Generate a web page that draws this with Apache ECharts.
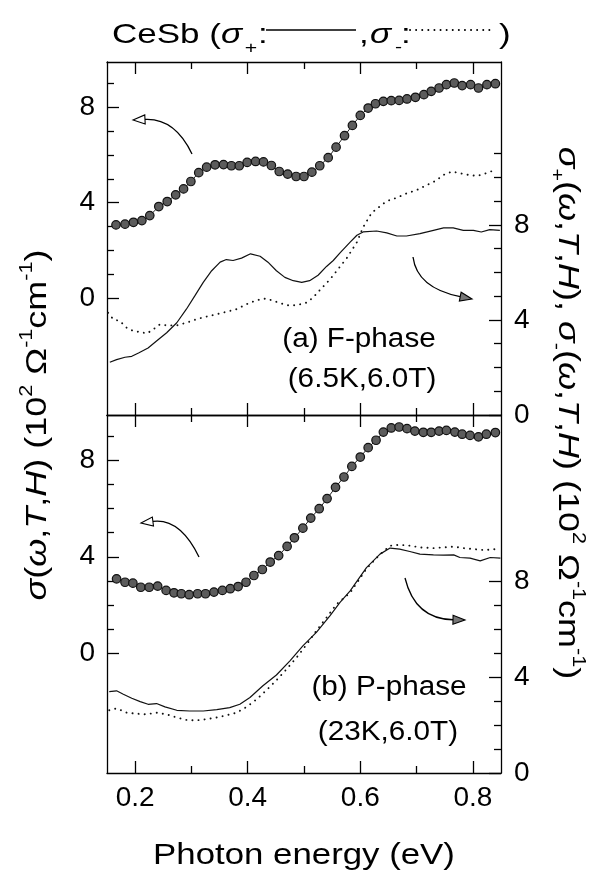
<!DOCTYPE html>
<html><head><meta charset="utf-8">
<script src="https://cdn.jsdelivr.net/npm/echarts@6/dist/echarts.min.js"></script>
<style>html,body{margin:0;padding:0;background:#fff}#c{width:603px;height:871px}</style>
</head><body><div id="c"></div>
<script>
// ---------- data ----------
// Panel (a) F-phase: sigma (left axis, dots)
const aSigmaX = [0.166,0.182,0.197,0.212,0.226,0.242,0.257,0.272,0.286,0.299,0.313,0.327,0.342,0.357,0.371,0.385,0.399,0.414,0.428,0.442,0.456,0.471,0.486,0.500,0.514,0.528,0.543,0.557,0.572,0.586,0.600,0.614,0.627,0.641,0.655,0.669,0.683,0.698,0.713,0.726,0.740,0.753,0.767,0.781,0.796,0.810,0.825,0.840];
const aSigmaY = [3.07,3.10,3.18,3.25,3.46,3.84,4.05,4.33,4.58,4.89,5.26,5.49,5.59,5.60,5.55,5.55,5.69,5.73,5.71,5.56,5.31,5.20,5.10,5.10,5.28,5.55,5.89,6.33,6.81,7.24,7.66,7.97,8.15,8.25,8.28,8.29,8.35,8.42,8.53,8.67,8.81,8.95,9.02,8.91,8.95,8.81,8.95,8.99];
// Panel (a): sigma+ (right axis, solid)
const aPlusX = [0.155,0.167,0.182,0.194,0.206,0.223,0.238,0.256,0.274,0.291,0.306,0.321,0.336,0.351,0.362,0.374,0.389,0.405,0.422,0.436,0.451,0.466,0.481,0.496,0.510,0.525,0.540,0.552,0.564,0.582,0.594,0.605,0.629,0.647,0.665,0.682,0.706,0.730,0.748,0.765,0.783,0.801,0.815,0.830,0.848];
const aPlusY = [2.22,2.33,2.43,2.47,2.61,2.82,3.11,3.46,3.88,4.45,5.01,5.58,6.07,6.43,6.54,6.50,6.60,6.78,6.68,6.43,6.07,5.79,5.65,5.58,5.65,5.88,6.25,6.50,6.82,7.27,7.56,7.70,7.74,7.66,7.53,7.53,7.63,7.77,7.87,7.87,7.77,7.77,7.70,7.80,7.77];
// Panel (a): sigma- (right axis, dotted)
const aMinusX = [0.152,0.161,0.173,0.185,0.197,0.209,0.221,0.232,0.244,0.256,0.274,0.291,0.309,0.327,0.345,0.362,0.380,0.398,0.416,0.433,0.451,0.469,0.487,0.505,0.516,0.528,0.546,0.561,0.576,0.594,0.605,0.620,0.635,0.647,0.665,0.682,0.700,0.718,0.733,0.748,0.763,0.777,0.792,0.807,0.819,0.831,0.843];
const aMinusY = [4.30,4.03,3.95,3.67,3.53,3.49,3.43,3.60,3.81,3.77,3.77,3.88,4.03,4.14,4.24,4.34,4.45,4.66,4.83,4.90,4.76,4.62,4.62,4.73,4.94,5.25,5.70,6.15,6.60,7.27,7.90,8.50,8.78,9.00,9.14,9.32,9.46,9.67,9.84,10.10,10.24,10.17,10.10,10.06,10.13,10.24,10.31];
// Panel (b) P-phase: sigma (left axis, dots)
const bSigmaX = [0.167,0.182,0.196,0.210,0.225,0.240,0.255,0.269,0.282,0.296,0.311,0.325,0.340,0.355,0.369,0.383,0.397,0.411,0.426,0.440,0.455,0.470,0.483,0.498,0.512,0.527,0.541,0.556,0.571,0.585,0.600,0.614,0.628,0.641,0.655,0.669,0.683,0.697,0.712,0.726,0.740,0.753,0.768,0.781,0.795,0.810,0.824,0.840];
const bSigmaY = [3.08,2.94,2.90,2.73,2.73,2.78,2.60,2.50,2.46,2.42,2.46,2.46,2.53,2.60,2.67,2.76,2.94,3.22,3.47,3.78,4.05,4.43,4.79,5.19,5.61,6.00,6.42,6.89,7.32,7.76,8.15,8.54,8.85,9.19,9.36,9.40,9.33,9.23,9.18,9.18,9.23,9.26,9.19,9.10,9.05,8.99,9.10,9.17];
// Panel (b): sigma+ (solid)
const bPlusX = [0.154,0.167,0.179,0.194,0.209,0.223,0.238,0.253,0.274,0.297,0.321,0.345,0.368,0.386,0.404,0.427,0.451,0.475,0.498,0.522,0.546,0.564,0.582,0.611,0.635,0.653,0.670,0.688,0.706,0.730,0.748,0.766,0.777,0.795,0.813,0.831,0.849];
const bPlusY = [3.39,3.42,3.28,3.11,2.97,2.86,2.89,2.75,2.61,2.58,2.58,2.64,2.72,2.86,3.14,3.63,4.08,4.67,5.29,5.85,6.54,7.10,7.58,8.55,9.11,9.36,9.32,9.22,9.11,9.08,9.07,9.08,8.97,8.94,8.83,8.97,8.94];
// Panel (b): sigma- (dotted)
const bMinusX = [0.154,0.167,0.185,0.202,0.220,0.238,0.256,0.274,0.291,0.309,0.327,0.345,0.362,0.380,0.398,0.416,0.433,0.451,0.469,0.487,0.505,0.522,0.540,0.558,0.582,0.611,0.635,0.653,0.670,0.688,0.706,0.730,0.748,0.766,0.783,0.801,0.819,0.843];
const bMinusY = [2.61,2.69,2.51,2.47,2.44,2.51,2.44,2.31,2.21,2.19,2.24,2.31,2.40,2.51,2.75,3.07,3.44,3.86,4.32,4.81,5.36,5.92,6.47,7.03,7.50,8.50,9.10,9.46,9.50,9.46,9.39,9.36,9.39,9.42,9.36,9.32,9.28,9.32];
// Ticks
const xLabelTicks = [0.2,0.4,0.6,0.8];
const xMinorTicks = [0.3,0.5,0.7];
const yLabelTicks = [0,4,8];
const leftMinorTicks = [1,2,3,5,6,7,9];
const rightMinorTicksA = [1,2,3,5,6,7,9,10,11];
const rightMinorTicksB = [1,2,3,5,6,7];

// ---------- chart ----------
const FONT = '"Liberation Sans", Arimo, Arial, Helvetica, sans-serif';
const chart = echarts.init(document.getElementById('c'), null, {renderer: 'canvas'});
const AX = {color: '#000', width: 1.3};

function xAx(grid, pos, vals, len, labels, showLine) {
  return {
    type: 'value', gridIndex: grid, position: pos, min: 0.15, max: 0.85,
    axisLine: {show: showLine, onZero: false, lineStyle: AX},
    axisTick: {show: true, inside: true, length: len, customValues: vals, lineStyle: AX},
    axisLabel: labels ? {show: true, customValues: xLabelTicks, formatter: v => v.toFixed(1),
      fontSize: 28, color: '#000', fontFamily: FONT, margin: 11} : {show: false},
    splitLine: {show: false}
  };
}
function yAx(grid, pos, min, max, vals, len, labels, showLine) {
  return {
    type: 'value', gridIndex: grid, position: pos, min: min, max: max,
    axisLine: {show: showLine, onZero: false, lineStyle: AX},
    axisTick: {show: true, inside: true, length: len, customValues: vals, lineStyle: AX},
    axisLabel: labels ? {show: true, customValues: yLabelTicks, fontSize: 28, color: '#000',
      fontFamily: FONT, margin: pos === 'left' ? 12 : 13} : {show: false},
    splitLine: {show: false}
  };
}
const pairs = (xs, ys) => xs.map((x, i) => [x, ys[i]]);
function dots(xs, ys, xi, yi) {
  return {type: 'line', xAxisIndex: xi, yAxisIndex: yi, data: pairs(xs, ys),
    symbol: 'circle', symbolSize: 8.5, showSymbol: true, showAllSymbol: true,
    itemStyle: {color: '#5c5c5c', borderColor: '#111', borderWidth: 1.2},
    lineStyle: {color: '#222', width: 1}, z: 5, animation: false, silent: true};
}
function solid(xs, ys, xi, yi) {
  return {type: 'line', xAxisIndex: xi, yAxisIndex: yi, data: pairs(xs, ys), symbol: 'none',
    lineStyle: {color: '#111', width: 1.2}, z: 3, animation: false, silent: true};
}
function dotted(xs, ys, xi, yi) {
  return {type: 'line', xAxisIndex: xi, yAxisIndex: yi, data: pairs(xs, ys), symbol: 'none',
    lineStyle: {color: '#111', width: 1.9, type: [0.1, 6], cap: 'round'}, z: 3, animation: false, silent: true};
}

function arrow(p0, c, p1, filled) {
  const ang = Math.atan2(p1[1] - c[1], p1[0] - c[0]);
  const L = 12, W = 4.5;
  const bx = p1[0] - L * Math.cos(ang), by = p1[1] - L * Math.sin(ang);
  const nx = -Math.sin(ang) * W, ny = Math.cos(ang) * W;
  return [
    {type: 'bezierCurve', shape: {x1: p0[0], y1: p0[1], cpx1: c[0], cpy1: c[1], x2: bx, y2: by},
      style: {stroke: '#000', lineWidth: 1.3, fill: null}, z: 10},
    {type: 'polygon', shape: {points: [[p1[0], p1[1]], [bx + nx, by + ny], [bx - nx, by - ny]]},
      style: {fill: filled ? '#777' : '#fff', stroke: '#000', lineWidth: 1.1}, z: 11}
  ];
}
function txt(x, y, s, size, align, sx, italic) {
  return {type: 'text', x: x, y: y, z: 20, scaleX: sx || 1,
    style: {text: s, fontSize: size, fontFamily: FONT, fontStyle: italic ? 'italic' : 'normal',
      fill: '#000', align: align || 'center', verticalAlign: 'middle'}};
}
const richBase = {
  i: {fontStyle: 'italic', fontSize: 30, fontFamily: FONT, lineHeight: 40},
  sup: {fontSize: 18, fontFamily: FONT, verticalAlign: 'top', lineHeight: 20},
  sub: {fontSize: 18, fontFamily: FONT, verticalAlign: 'bottom', lineHeight: 20}
};
function axisTitle(x, y, s, rot) {
  return {type: 'text', x: x, y: y, rotation: rot, scaleX: 1.2, z: 20,
    style: {text: s, fontSize: 30, fontFamily: FONT, lineHeight: 40, fill: '#000',
      align: 'center', verticalAlign: 'middle', rich: richBase}};
}

const TS = 1.25; // horizontal stretch of the title text
const graphics = [].concat(
  // title
  txt(112, 35, 'CeSb (', 28, 'left', TS),
  txt(221, 35, 'σ', 28, 'left', TS, true),
  txt(251, 48, '+', 17, 'center', TS),
  txt(258, 35, ':', 28, 'left', TS),
  [{type: 'line', shape: {x1: 266, y1: 30, x2: 356, y2: 30}, style: {stroke: '#000', lineWidth: 1.3}, z: 20}],
  txt(359, 35, ',', 28, 'left', TS),
  txt(370, 35, 'σ', 28, 'left', TS, true),
  txt(398.5, 47, '-', 17, 'center', TS),
  txt(401, 35, ':', 28, 'left', TS),
  [{type: 'line', shape: {x1: 410, y1: 30, x2: 493, y2: 30}, style: {stroke: '#000', lineWidth: 1.9, lineDash: [0.1, 6], lineCap: 'round'}, z: 20}],
  txt(499, 35, ')', 28, 'left', TS),
  // axis titles
  axisTitle(38, 425, '{i|σ}({i|ω},{i|T},{i|H}) (10{sup|2} Ω{sup|-1}cm{sup|-1})', Math.PI / 2),
  axisTitle(567, 413, '{i|σ}{sub|+}({i|ω},{i|T},{i|H}), {i|σ}{sub|-}({i|ω},{i|T},{i|H}) (10{sup|2} Ω{sup|-1}cm{sup|-1})', -Math.PI / 2),
  txt(304, 856, 'Photon energy (eV)', 29, 'center', 1.2),
  // panel labels
  txt(359, 340, '(a) F-phase', 27, 'center', 1.1),
  txt(362, 380, '(6.5K,6.0T)', 27, 'center', 1.1),
  txt(389, 688, '(b) P-phase', 27, 'center', 1.1),
  txt(388, 733, '(23K,6.0T)', 27, 'center', 1.1),
  // arrows
  arrow([192, 154], [175, 118], [133, 120], false),
  arrow([413, 257], [417, 288], [472, 299], true),
  arrow([199, 557], [180, 518], [141, 523], false),
  arrow([405, 578], [415, 619], [465, 620], true)
);

const option = {
  backgroundColor: '#fff',
  animation: false,
  textStyle: {fontFamily: FONT},
  grid: [
    {left: 107, top: 62, width: 394, height: 353, containLabel: false},
    {left: 107, top: 415, width: 394, height: 358, containLabel: false}
  ],
  xAxis: [
    xAx(0, 'bottom', xLabelTicks, 12, false, true),
    xAx(0, 'bottom', xMinorTicks, 7, false, false),
    xAx(0, 'top', xLabelTicks, 12, false, true),
    xAx(0, 'top', xMinorTicks, 7, false, false),
    xAx(1, 'bottom', xLabelTicks, 12, true, true),
    xAx(1, 'bottom', xMinorTicks, 7, false, false),
    xAx(1, 'top', xLabelTicks, 12, false, true),
    xAx(1, 'top', xMinorTicks, 7, false, false)
  ],
  yAxis: [
    yAx(0, 'left', -4.9, 9.9, yLabelTicks, 12, true, true),
    yAx(0, 'left', -4.9, 9.9, leftMinorTicks, 7, false, false),
    yAx(0, 'right', 0, 14.85, yLabelTicks, 12, true, true),
    yAx(0, 'right', 0, 14.85, rightMinorTicksA, 7, false, false),
    yAx(1, 'left', -5, 9.9, yLabelTicks, 12, true, true),
    yAx(1, 'left', -5, 9.9, leftMinorTicks, 7, false, false),
    yAx(1, 'right', 0, 14.9, yLabelTicks, 12, true, true),
    yAx(1, 'right', 0, 14.9, rightMinorTicksB, 7, false, false)
  ],
  series: [
    dots(aSigmaX, aSigmaY, 0, 0),
    solid(aPlusX, aPlusY, 0, 2),
    dotted(aMinusX, aMinusY, 0, 2),
    dots(bSigmaX, bSigmaY, 4, 4),
    solid(bPlusX, bPlusY, 4, 6),
    dotted(bMinusX, bMinusY, 4, 6)
  ],
  graphic: {elements: graphics}
};
chart.setOption(option);
</script>
</body></html>
